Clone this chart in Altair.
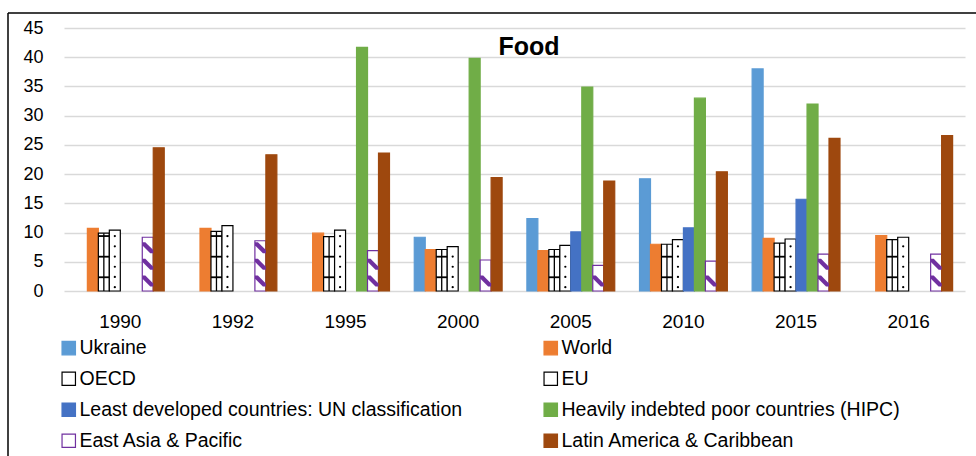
import altair as alt
import pandas as pd

# Categories and series
years = ["1990", "1992", "1995", "2000", "2005", "2010", "2015", "2016"]
series = [
    "Ukraine",
    "World",
    "OECD",
    "EU",
    "Least developed countries: UN classification",
    "Heavily indebted poor countries (HIPC)",
    "East Asia & Pacific",
    "Latin America & Caribbean",
]

# Food share values per series, one entry per year (None = no data)
ukraine = [None, None, None, 9.2, 12.4, 19.2, 38.0, None]
world = [10.7, 10.7, 9.9, 7.1, 6.9, 8.0, 9.0, 9.5]
oecd = [9.9, 10.2, 9.3, 7.1, 7.1, 8.0, 8.2, 8.8]
eu = [10.4, 11.2, 10.4, 7.6, 7.8, 8.8, 8.9, 9.2]
ldc = [None, None, None, None, 10.1, 10.8, 15.7, None]
hipc = [None, None, 41.7, 39.8, 34.9, 33.0, 32.0, None]
east_asia = [9.2, 8.6, 6.9, 5.3, 4.4, 5.1, 6.3, 6.3]
latin_america = [24.5, 23.3, 23.6, 19.4, 18.8, 20.4, 26.1, 26.6]

values_by_series = [ukraine, world, oecd, eu, ldc, hipc, east_asia, latin_america]

fills = ["#5B9BD5", "#ED7D31", "#FFFFFF", "#FFFFFF", "#4472C4", "#70AD47", "#FFFFFF", "#9E480E"]
strokes = ["#5B9BD5", "#ED7D31", "#000000", "#000000", "#4472C4", "#70AD47", "#7030A0", "#9E480E"]

FONT = "Liberation Sans"

# Hatch pattern levels (value units) for the patterned bars
OECD_HATCH = [2.35, 5.87, 9.4]
EU_DOTS = [0.65, 2.4, 4.15, 5.9, 7.65, 9.4, 11.15]
EAP_STRIPES = [1.7, 4.56, 7.42, 10.28]
STRIPE = "M-1,-1L-0.45,-1L1,0.45L1,1L0.45,1L-1,-0.45Z"

rows = []
for name, vals in zip(series, values_by_series):
    for yr, v in zip(years, vals):
        if v is not None:
            rows.append({"year": yr, "series": name, "value": v})
df = pd.DataFrame(rows)


def pattern_rows(name, vals, levels, fits):
    out = []
    for yr, v in zip(years, vals):
        if v is None:
            continue
        for lv in levels:
            if fits(lv, v):
                out.append({"year": yr, "series": name, "value": lv})
    return pd.DataFrame(out)


oecd_df = pattern_rows("OECD", oecd, OECD_HATCH, lambda lv, v: v > lv + 0.2)
eu_df = pattern_rows("EU", eu, EU_DOTS, lambda lv, v: v > lv + 0.35)
eap_df = pattern_rows("East Asia & Pacific", east_asia, EAP_STRIPES, lambda lv, v: lv + 0.95 <= v)
oecd_bar_df = df[df["series"] == "OECD"]

x_enc = alt.X(
    "year:N",
    sort=years,
    scale=alt.Scale(domain=years, paddingInner=0.22, paddingOuter=0.11),
    axis=alt.Axis(
        title=None,
        labelAngle=0,
        labelFont=FONT,
        labelFontSize=19,
        labelColor="#000000",
        labelPadding=21,
        ticks=False,
        domain=False,
        grid=False,
    ),
)
xo_enc = alt.XOffset("series:N", scale=alt.Scale(domain=series, paddingInner=0, paddingOuter=0))
y_enc = alt.Y(
    "value:Q",
    scale=alt.Scale(domain=[0, 45], nice=False),
    axis=alt.Axis(
        title=None,
        values=list(range(0, 50, 5)),
        labelFont=FONT,
        labelFontSize=18,
        labelColor="#000000",
        labelPadding=21,
        ticks=False,
        domain=False,
        grid=True,
        gridColor="#D9D9D9",
        gridWidth=1.5,
    ),
)

legend = alt.Legend(
    title=None,
    orient="none",
    direction="horizontal",
    legendX=-5,
    legendY=310,
    columns=2,
    columnPadding=78,
    rowPadding=10,
    symbolType="square",
    symbolSize=180,
    symbolStrokeWidth=1.2,
    labelFont=FONT,
    labelFontSize=19.5,
    labelColor="#000000",
    labelOffset=1,
    labelLimit=600,
    padding=0,
)

bars = alt.Chart(df).mark_bar(strokeWidth=1.2).encode(
    x=x_enc,
    xOffset=xo_enc,
    y=y_enc,
    fill=alt.Fill("series:N", scale=alt.Scale(domain=series, range=fills), legend=legend),
    stroke=alt.Stroke("series:N", scale=alt.Scale(domain=series, range=strokes), legend=legend),
)

# thin inner upright of the OECD grid pattern
oecd_upright = alt.Chart(oecd_bar_df).mark_bar(width=1.3, color="#000000").encode(
    x=x_enc, xOffset=xo_enc, y=y_enc
)

oecd_lines = alt.Chart(oecd_df).mark_point(
    shape="M-1,0L1,0", filled=False, stroke="#000000", strokeWidth=1.8, size=121, opacity=1
).encode(x=x_enc, xOffset=xo_enc, y=y_enc)

eu_dots = alt.Chart(eu_df).mark_circle(size=5, color="#000000", opacity=1).encode(
    x=x_enc, xOffset=xo_enc, y=y_enc
)

eap_stripes = alt.Chart(eap_df).mark_point(
    shape=STRIPE, filled=True, color="#7030A0", strokeWidth=0, size=121, opacity=1
).encode(x=x_enc, xOffset=xo_enc, y=y_enc)

title = alt.Chart(pd.DataFrame({"t": ["Food"]})).mark_text(
    font=FONT, fontSize=25, fontWeight="bold", align="center", baseline="alphabetic", color="#000000"
).encode(text="t:N", x=alt.value(465), y=alt.value(26.5))

frame_left = alt.Chart(pd.DataFrame({"k": [0]})).mark_rule(color="#000000", strokeWidth=1.5).encode(
    x=alt.value(-56), y=alt.value(-15), y2=alt.value(440)
)
frame_top = alt.Chart(pd.DataFrame({"k": [0]})).mark_rule(color="#000000", strokeWidth=1.5).encode(
    x=alt.value(-56), x2=alt.value(930), y=alt.value(-15)
)

chart = (
    alt.layer(bars, oecd_upright, oecd_lines, eu_dots, eap_stripes, title, frame_left, frame_top)
    .properties(
        width=901,
        height=263,
        autosize=alt.AutoSizeParams(type="none"),
        padding={"left": 64, "top": 28, "right": 11, "bottom": 165},
        background="#FFFFFF",
    )
    .configure_view(stroke=None)
)

chart.save("out.html", embed_options={"renderer": "svg", "actions": False})
